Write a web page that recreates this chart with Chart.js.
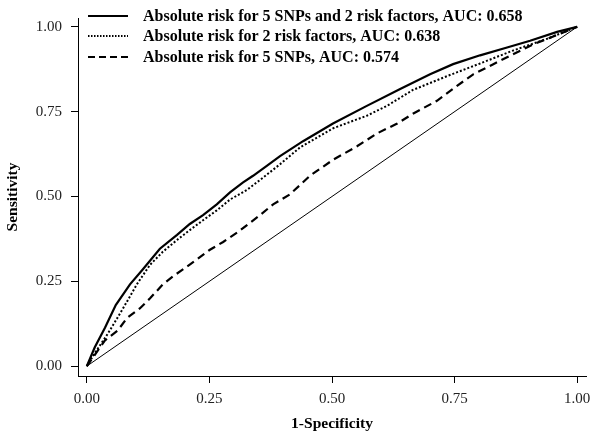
<!DOCTYPE html>
<html>
<head>
<meta charset="utf-8">
<script src="https://cdn.jsdelivr.net/npm/chart.js@4/dist/chart.umd.min.js"></script>
<style>
  html, body { margin: 0; padding: 0; background: #fff; }
  #wrap { width: 600px; height: 441px; }
</style>
</head>
<body>
<div id="wrap"><canvas id="roc"></canvas></div>
<script>
// ROC curves, values (1-specificity, sensitivity)
var fprCombined = [0, 0.016, 0.037, 0.059, 0.088, 0.114, 0.149, 0.184, 0.210, 0.237, 0.265, 0.292, 0.318, 0.339, 0.367, 0.394, 0.441, 0.502, 0.571, 0.639, 0.700, 0.747, 0.802, 0.857, 0.904, 0.959, 1];
var tprCombined = [0, 0.055, 0.113, 0.180, 0.241, 0.285, 0.346, 0.387, 0.419, 0.445, 0.477, 0.512, 0.541, 0.561, 0.590, 0.619, 0.663, 0.715, 0.767, 0.817, 0.860, 0.890, 0.916, 0.939, 0.959, 0.985, 1];

var fprRisk = [0, 0.016, 0.043, 0.073, 0.102, 0.129, 0.155, 0.184, 0.210, 0.237, 0.265, 0.292, 0.327, 0.359, 0.394, 0.435, 0.502, 0.571, 0.612, 0.665, 0.735, 0.802, 0.869, 0.939, 1];
var tprRisk = [0, 0.038, 0.096, 0.168, 0.241, 0.299, 0.337, 0.372, 0.401, 0.430, 0.459, 0.491, 0.520, 0.555, 0.595, 0.645, 0.701, 0.738, 0.767, 0.814, 0.855, 0.892, 0.930, 0.965, 1];

var fprSnps = [0, 0.037, 0.063, 0.082, 0.108, 0.129, 0.155, 0.176, 0.196, 0.224, 0.251, 0.278, 0.308, 0.353, 0.380, 0.414, 0.455, 0.502, 0.551, 0.592, 0.633, 0.665, 0.714, 0.755, 0.788, 0.829, 0.869, 0.910, 0.945, 1];
var tprSnps = [0, 0.076, 0.105, 0.142, 0.170, 0.200, 0.241, 0.265, 0.285, 0.314, 0.343, 0.366, 0.395, 0.445, 0.477, 0.506, 0.561, 0.608, 0.648, 0.686, 0.715, 0.744, 0.782, 0.826, 0.860, 0.890, 0.919, 0.948, 0.968, 1];

var seriesLabels = [
    'Absolute risk for 5 SNPs and 2 risk factors, AUC: 0.658',
    'Absolute risk for 2 risk factors, AUC: 0.638',
    'Absolute risk for 5 SNPs, AUC: 0.574'
];
var tickValues = [0, 0.25, 0.5, 0.75, 1];

function pairs(xs, ys) {
    return xs.map(function (x, i) { return { x: x, y: ys[i] }; });
}

// legend drawn inside the plot, top-left, like the original
var innerLegend = {
    id: 'innerLegend',
    afterDatasetsDraw: function (chart) {
        var ctx = chart.ctx;
        var rows = [16, 36, 57];
        ctx.save();
        chart.data.datasets.forEach(function (ds, i) {
            if (!ds.legend) return;
            var y = rows[i];
            ctx.beginPath();
            ctx.setLineDash(ds.legendDash || []);
            ctx.lineWidth = ds.borderWidth;
            ctx.strokeStyle = '#000';
            ctx.moveTo(88, y);
            ctx.lineTo(128, y);
            ctx.stroke();
            ctx.setLineDash([]);
            ctx.fillStyle = '#000';
            ctx.font = 'bold 16px "Liberation Serif", "Times New Roman", serif';
            ctx.textBaseline = 'middle';
            ctx.textAlign = 'left';
            ctx.fillText(ds.label, 143, y + 1);
        });
        ctx.restore();
    }
};

var axisFont = { family: '"Liberation Serif", "Times New Roman", serif', size: 15 };
var titleFont = { family: '"Liberation Serif", "Times New Roman", serif', size: 15.5, weight: 'bold' };

new Chart(document.getElementById('roc').getContext('2d'), {
    type: 'line',
    data: {
        datasets: [
            {
                label: seriesLabels[0], legend: true,
                data: pairs(fprCombined, tprCombined),
                borderColor: '#000', borderWidth: 2.2, pointRadius: 0
            },
            {
                label: seriesLabels[1], legend: true,
                data: pairs(fprRisk, tprRisk),
                borderColor: '#000', borderWidth: 2, borderDash: [2, 2], legendDash: [1.5, 1.5], pointRadius: 0
            },
            {
                label: seriesLabels[2], legend: true,
                data: pairs(fprSnps, tprSnps),
                borderColor: '#000', borderWidth: 2.2, borderDash: [8, 5], legendDash: [7, 4], pointRadius: 0
            },
            {
                label: 'reference', legend: false,
                data: pairs([0, 1], [0, 1]),
                borderColor: '#000', borderWidth: 1, pointRadius: 0
            }
        ]
    },
    options: {
        responsive: true,
        maintainAspectRatio: false,
        animation: false,
        layout: { padding: { top: 13, right: 14, left: 0, bottom: 0 } },
        plugins: { legend: { display: false }, tooltip: { enabled: false } },
        scales: {
            x: {
                type: 'linear', min: -0.018, max: 1.018,
                afterBuildTicks: function (s) { s.ticks = tickValues.map(function (v) { return { value: v }; }); },
                afterFit: function (s) { s.height = 65; },
                grid: { drawOnChartArea: false, drawTicks: true, tickLength: 7, color: '#000' },
                border: { display: true, color: '#000', width: 1 },
                ticks: { color: '#222', font: axisFont, padding: 7, maxRotation: 0,
                    callback: function (v) { return v.toFixed(2); } },
                title: { display: true, text: '1-Specificity', color: '#000', font: titleFont, padding: { top: 0, bottom: 8 } }
            },
            y: {
                type: 'linear', min: -0.029, max: 1.026,
                afterBuildTicks: function (s) { s.ticks = tickValues.map(function (v) { return { value: v }; }); },
                afterFit: function (s) { s.width = 78; },
                grid: { drawOnChartArea: false, drawTicks: true, tickLength: 7, color: '#000' },
                border: { display: true, color: '#000', width: 1 },
                ticks: { color: '#222', font: axisFont, padding: 9,
                    callback: function (v) { return v.toFixed(2); } },
                title: { display: true, text: 'Sensitivity', color: '#000', font: titleFont, padding: { bottom: 0 } }
            }
        }
    },
    plugins: [innerLegend]
});
</script>
</body>
</html>
